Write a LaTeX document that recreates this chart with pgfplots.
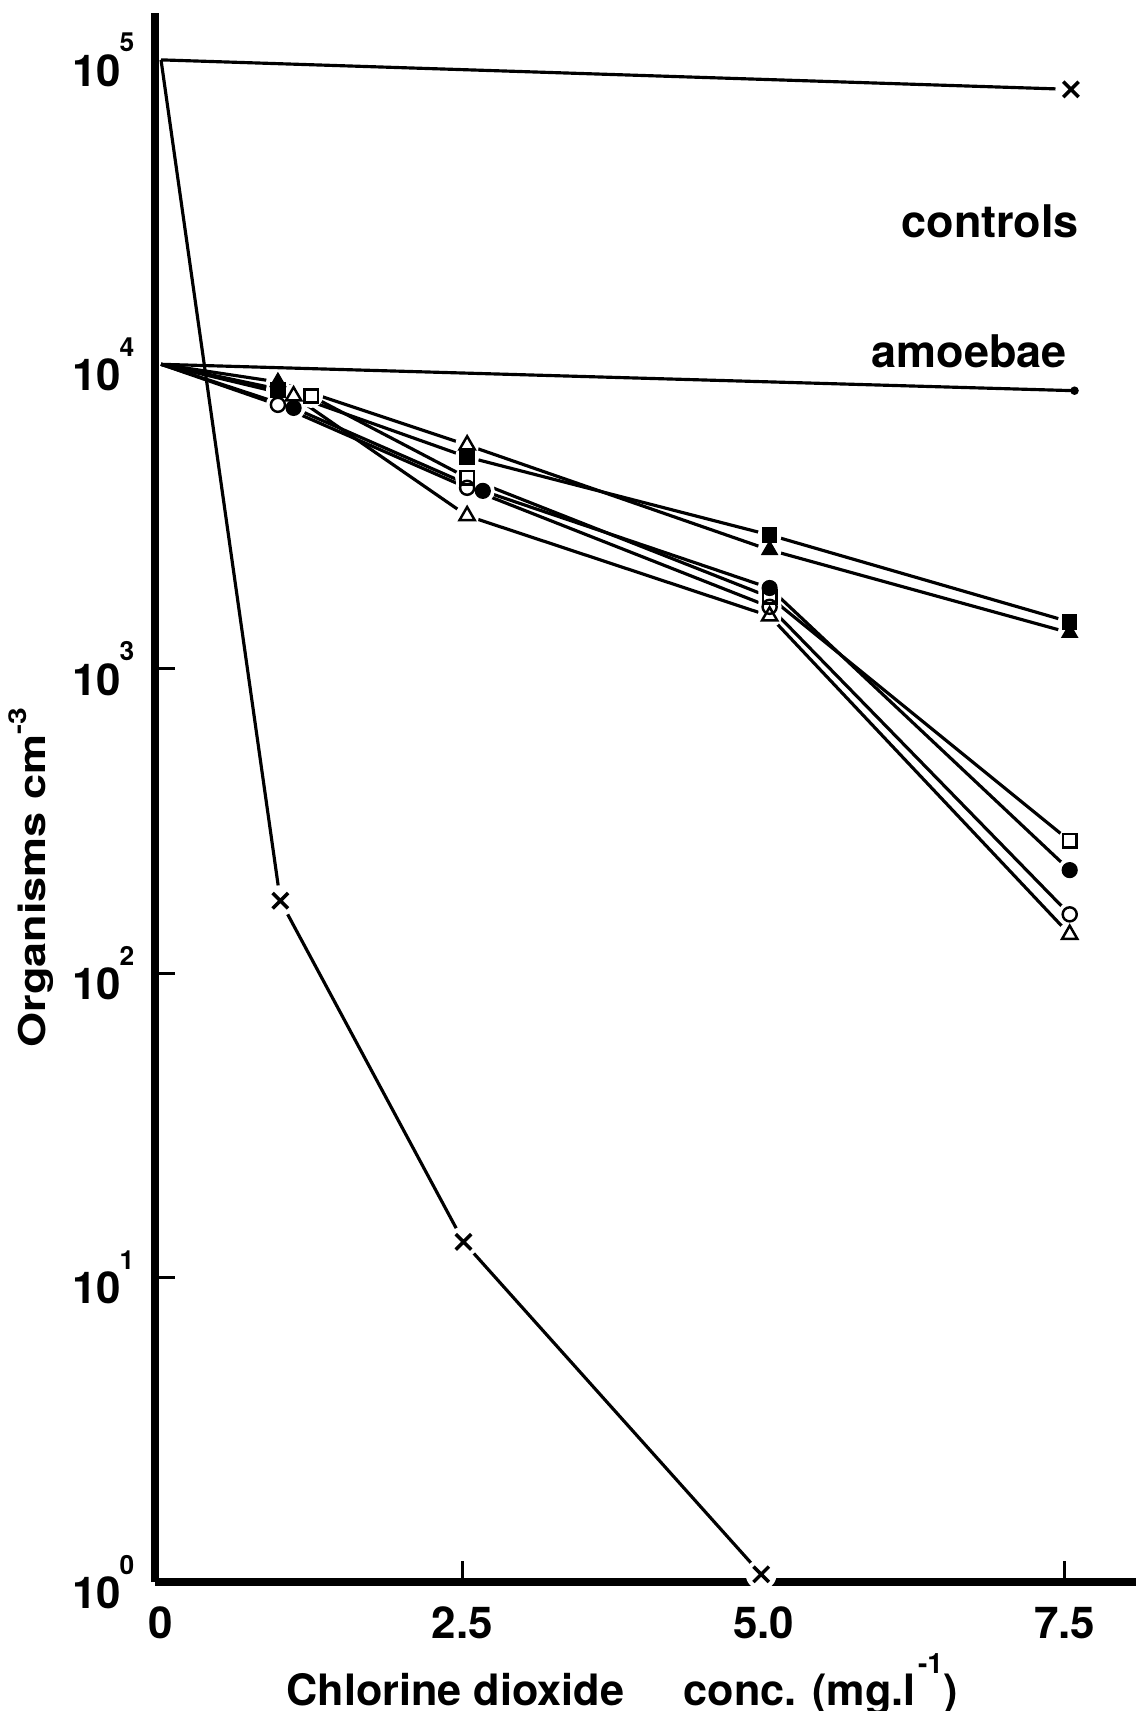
\documentclass[border=0pt]{standalone}
\usepackage{fontspec}
\setmainfont{TeX Gyre Heros}
\usepackage{pgfplots}
\pgfplotsset{compat=1.18}
\newcommand{\tl}[1]{10\kern-0.03em\raisebox{0.78em}{\fontsize{7.5}{8}\selectfont\bfseries #1}}
\begin{document}
\begin{tikzpicture}
\begin{axis}[
  name=ax, at={(0,0)}, anchor=south west,
  scale only axis, width=98.1mm, height=156.9mm,
  xmin=-0.05, xmax=8.09,
  ymode=log, ymin=1, ymax=142560,
  axis x line*=bottom, axis y line*=left,
  axis line style={-, line width=2.2pt, black},
  xtick={0,2.5,5,7.5}, xticklabels={0,2.5,5.0,7.5},
  ytick={1,10,100,1000,10000,100000},
  yticklabels={\tl{0},\tl{1},\tl{2},\tl{3},\tl{4},\tl{5}},
  xminorticks=false, yminorticks=false,
  major tick length=0pt,
  ticklabel style={font=\fontsize{12.5}{15}\selectfont\bfseries},
  xticklabel style={anchor=base, yshift=-5.6mm},
  yticklabel style={inner sep=0pt, xshift=-2mm},
  xlabel={Chlorine dioxide\hspace{1.1em} conc. (mg.l\kern0.05em\raisebox{0.72em}{\fontsize{8}{9}\selectfont\bfseries -1})},
  ylabel={\scalebox{1.22}[1]{Organisms cm\raisebox{0.5em}{\fontsize{7}{8}\selectfont\bfseries -3}}},
  xlabel style={font=\fontsize{12.3}{15}\selectfont\bfseries, at={(axis description cs:0.476,-0.0784)}, anchor=base},
  ylabel style={font=\fontsize{10.5}{13}\selectfont\bfseries, at={(axis description cs:-0.1121,0.449)}, anchor=base},
  clip=false,
]
% short tick strokes on the axis lines
\addplot[black, line width=0.8pt, forget plot] coordinates {(2.5,1) (2.5,1.17)};
\addplot[black, line width=0.8pt, forget plot] coordinates {(5,1) (5,1.17)};
\addplot[black, line width=0.8pt, forget plot] coordinates {(7.5,1) (7.5,1.17)};
\addplot[black, line width=0.8pt, forget plot] coordinates {(-0.05,10) (0.12,10)};
\addplot[black, line width=0.8pt, forget plot] coordinates {(-0.05,100) (0.12,100)};
\addplot[black, line width=0.8pt, forget plot] coordinates {(-0.05,1000) (0.12,1000)};
% lines
\addplot[black, line width=0.9pt] coordinates {(0,100000) (7.55,80000)};
\addplot[black, line width=0.9pt] coordinates {(0,100000) (0.99,173) (2.51,13.1) (4.98,1.06)};
\addplot[black, line width=0.9pt] coordinates {(0,10000) (7.58,8190)};
\addplot[black, line width=0.9pt] coordinates {(0,10000) (0.97,8750) (2.54,5430) (5.05,2455) (7.54,1312)};
\addplot[black, line width=0.9pt] coordinates {(0,10000) (0.97,8240) (2.54,4960) (5.05,2750) (7.54,1425)};
\addplot[black, line width=0.9pt] coordinates {(0,10000) (1.245,7870) (2.54,4240) (5.05,1720) (7.54,272)};
\addplot[black, line width=0.9pt] coordinates {(0,10000) (0.97,7360) (2.54,3930) (5.05,1597) (7.54,156)};
\addplot[black, line width=0.9pt] coordinates {(0,10000) (1.10,7190) (2.67,3840) (5.05,1842) (7.54,218)};
\addplot[black, line width=0.9pt] coordinates {(0,10000) (1.10,7870) (2.54,3180) (5.05,1490) (7.54,134)};
% white halos round the marks
\addplot[white, only marks, mark=*, mark size=3.2pt, mark options={draw=white, fill=white}] coordinates {
 (0.97,8750) (2.54,5430) (5.05,2455) (7.54,1312)
 (0.97,8240) (2.54,4960) (5.05,2750) (7.54,1425)
 (1.245,7870) (2.54,4240) (5.05,1720) (7.54,272)
 (0.97,7360) (2.54,3930) (5.05,1597) (7.54,156)
 (1.10,7190) (2.67,3840) (5.05,1842) (7.54,218)
 (1.10,7870) (2.54,3180) (5.05,1490) (7.54,134)};
\addplot[white, only marks, mark=*, mark size=4.2pt, mark options={draw=white, fill=white}] coordinates {
 (7.55,80000) (0.99,173) (2.51,13.1) (4.98,1.06)};
% marks
\addplot[only marks, mark=triangle, mark size=2.5pt, mark options={draw=black, fill=white, line width=0.7pt}] coordinates {(1.10,7870) (2.54,3180) (5.05,1490) (7.54,134) (2.54,5430)};
\addplot[only marks, mark=o, mark size=2.0pt, mark options={draw=black, fill=white, line width=0.7pt}] coordinates {(0.97,7360) (2.54,3930) (5.05,1597) (7.54,156)};
\addplot[only marks, mark=square, mark size=1.9pt, mark options={draw=black, fill=white, line width=0.7pt}] coordinates {(1.245,7870) (2.54,4240) (5.05,1720) (7.54,272)};
\addplot[only marks, mark=*, mark size=2.1pt, mark options={draw=black, fill=black}] coordinates {(1.10,7190) (2.67,3840) (5.05,1842) (7.54,218)};
\addplot[only marks, mark=triangle*, mark size=2.5pt, mark options={draw=black, fill=black}] coordinates {(0.97,8750) (5.05,2455) (7.54,1312)};
\addplot[only marks, mark=square*, mark size=2.0pt, mark options={draw=black, fill=black}] coordinates {(0.97,8240) (2.54,4960) (5.05,2750) (7.54,1425)};
\addplot[only marks, mark=x, mark size=3.1pt, mark options={draw=black, line width=1pt}] coordinates {(7.55,80000) (0.99,173) (2.51,13.1) (4.98,1.06)};
\addplot[only marks, mark=*, mark size=1pt, mark options={draw=black, fill=black}] coordinates {(7.58,8190)};
\node[anchor=base east, font=\fontsize{12.8}{15}\selectfont\bfseries] at (axis cs:7.72,26000) {controls};
\node[anchor=base east, font=\fontsize{12.8}{15}\selectfont\bfseries] at (axis cs:7.62,9730) {amoebae};
\end{axis}
\pgfresetboundingbox
\path[use as bounding box] ([shift={(-15.5mm,-12.9mm)}]ax.south west) rectangle ([shift={(98.1mm,158.2mm)}]ax.south west);
\end{tikzpicture}
\end{document}
